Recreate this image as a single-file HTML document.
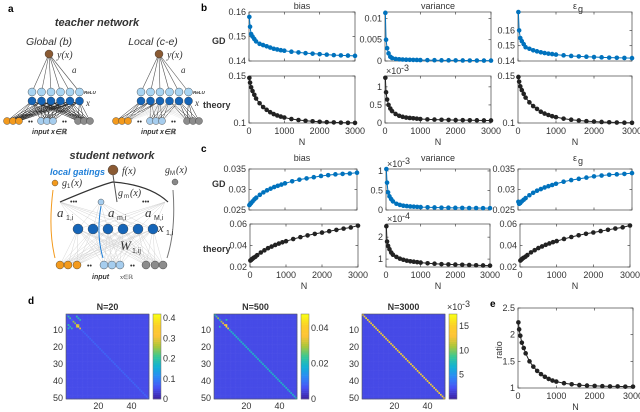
<!DOCTYPE html>
<html><head><meta charset="utf-8">
<style>
body{margin:0;background:#fff;}
svg{display:block;font-family:"Liberation Sans",sans-serif;}
.t{font-size:9px;fill:#333;}
.b{font-weight:bold;}
</style></head>
<body>
<svg id="fig" width="640" height="412" viewBox="0 0 640 412" xmlns="http://www.w3.org/2000/svg">
<g id="netA"></g>
<g id="plots"></g>
<text x="8" y="12" class="b" font-size="10">a</text>
<text x="201" y="11" class="b" font-size="10">b</text>
<text x="201" y="152" class="b" font-size="10">c</text>
<text x="28" y="304" class="b" font-size="10">d</text>
<text x="490" y="307" class="b" font-size="10">e</text>
</svg>
<script>
const Ns=[10,30,60,100,150,200,300,400,500,600,700,800,900,1000,1200,1400,1600,1800,2000,2200,2400,2600,2800,3000];
const bBiasGD=[0.158,0.154,0.151,0.150,0.149,0.148,0.147,0.1465,0.146,0.1455,0.145,0.1447,0.1444,0.1442,0.1438,0.1435,0.1432,0.143,0.1428,0.1426,0.1424,0.1423,0.1422,0.1421];
const bBiasTh=[0.148,0.143,0.138,0.134,0.130,0.126,0.121,0.117,0.114,0.1115,0.1095,0.108,0.1068,0.1058,0.1042,0.1032,0.1024,0.1018,0.1013,0.1009,0.1006,0.1004,0.1002,0.1001];
const bVarGD=[0.0113,0.005,0.003,0.0018,0.001,0.0007,0.0005,0.0004,0.00035,0.0003,0.00028,0.00026,0.00024,0.00022,0.0002,0.00018,0.00016,0.00015,0.00014,0.00013,0.00012,0.00011,0.0001,0.0001];
const bVarTh=[1.25,0.85,0.65,0.5,0.4,0.33,0.25,0.2,0.17,0.15,0.14,0.13,0.12,0.11,0.1,0.095,0.09,0.085,0.08,0.078,0.075,0.073,0.07,0.07];
const bEpsGD=[0.172,0.160,0.155,0.153,0.151,0.149,0.148,0.147,0.1463,0.1457,0.1452,0.1448,0.1445,0.1442,0.1437,0.1433,0.143,0.1428,0.1426,0.1424,0.1422,0.1421,0.142,0.1419];
const bEpsTh=[0.149,0.144,0.139,0.135,0.131,0.127,0.122,0.118,0.115,0.112,0.110,0.1085,0.1072,0.1062,0.1046,0.1035,0.1027,0.102,0.1015,0.1011,0.1008,0.1005,0.1003,0.1002];
const cBiasGD=[0.0262,0.0264,0.0267,0.0271,0.0276,0.028,0.0287,0.0293,0.0298,0.0302,0.0306,0.0309,0.0312,0.0315,0.032,0.0324,0.0327,0.033,0.0333,0.0335,0.0337,0.0338,0.0339,0.0341];
const cVarGD=[1.05,0.7,0.45,0.35,0.28,0.22,0.16,0.13,0.11,0.1,0.09,0.085,0.08,0.075,0.07,0.065,0.06,0.058,0.055,0.053,0.05,0.05,0.048,0.047];
const cEpsGD=[0.027,0.0265,0.0267,0.0271,0.0275,0.0279,0.0286,0.0292,0.0297,0.0301,0.0305,0.0308,0.0311,0.0314,0.0319,0.0323,0.0326,0.0329,0.0332,0.0334,0.0336,0.0337,0.0338,0.034];
const cBiasTh=[0.026,0.0265,0.0275,0.0285,0.0295,0.031,0.0335,0.0355,0.0375,0.039,0.0405,0.0418,0.043,0.044,0.046,0.0478,0.0494,0.0508,0.052,0.0533,0.0545,0.0557,0.0568,0.0585];
const cVarTh=[2.5,1.8,1.6,1.45,1.3,1.2,1.1,1.02,0.97,0.93,0.9,0.88,0.86,0.84,0.81,0.79,0.77,0.76,0.75,0.74,0.73,0.72,0.71,0.7];
const cEpsTh=[0.026,0.0266,0.0276,0.0286,0.0296,0.0311,0.0336,0.0356,0.0376,0.0391,0.0406,0.0419,0.0431,0.0441,0.0461,0.0479,0.0495,0.0509,0.0521,0.0534,0.0546,0.0558,0.0569,0.0586];
const eRatio=[2.23,2.1,1.98,1.85,1.75,1.65,1.5,1.4,1.32,1.26,1.21,1.17,1.14,1.12,1.09,1.07,1.055,1.045,1.04,1.035,1.03,1.03,1.025,1.025];
const xTicks=[0,1000,2000,3000];
// heatmap data
const hmBase=[0.045,0.005,0.0018];
const hmDiag=[0.07,0.02,0.0155];
const hmMax=[0.42,0.048,0.0175];
const hmHotCells=[[[1,1,0.2],[2,2,0.22],[4,4,0.25],[5,5,0.25],[6,6,0.3],[7,7,0.38],[7,2,0.18],[2,7,0.18],[8,3,0.2],[3,8,0.2],[6,7,0.28],[7,6,0.28],[1,6,0.2],[6,1,0.2],[8,8,0.3],[8,1,0.18]],
  [[1,1,0.025],[2,2,0.03],[4,4,0.03],[5,5,0.035],[7,7,0.045],[7,3,0.022],[3,7,0.022],[6,7,0.04],[8,8,0.04],[6,6,0.035]],
  [[2,2,0.0165],[7,7,0.0165]]];
const hmTitles=['N=20','N=500','N=3000'];
const cbTicks=[[0,0.1,0.2,0.3,0.4],[0,0.02,0.04],[0.005,0.01,0.015]];
const cbLabels=[['0','0.1','0.2','0.3','0.4'],['0','0.02','0.04'],['5','10','15']];

const NS='http://www.w3.org/2000/svg';
function el(tag,attrs,parent,txt){const e=document.createElementNS(NS,tag);for(const k in attrs)e.setAttribute(k,attrs[k]);if(txt!==undefined)e.textContent=txt;(parent||document.getElementById('plots')).appendChild(e);return e;}

function plot(name,x0,x1,y0,y1,ymin,ymax,yt,ytl,data,color,xlab,expo){
  const g=el('g',{});
  
  
  const sx=v=>x0+(v-0)/(3000-0)*(x1-x0);
  const sy=v=>y1-(v-ymin)/(ymax-ymin)*(y1-y0);
  const r=el('rect',{x:x0,y:y0,width:x1-x0,height:y1-y0,fill:'none',stroke:'#444','stroke-width':0.7},g);
  
  
  yt.forEach((v,i)=>{const y=sy(v);el('line',{x1:x0,x2:x0+2.5,y1:y,y2:y,stroke:'#444','stroke-width':0.7},g);el('line',{x1:x1,x2:x1-2.5,y1:y,y2:y,stroke:'#444','stroke-width':0.7},g);
    const t=el('text',{x:x0-3,y:y+3,'text-anchor':'end',class:'t'},g,ytl[i]);});
  xTicks.forEach(v=>{const x=sx(v);el('line',{x1:x,x2:x,y1:y1,y2:y1-2.5,stroke:'#444','stroke-width':0.7},g);el('line',{x1:x,x2:x,y1:y0,y2:y0+2.5,stroke:'#444','stroke-width':0.7},g);
    if(xlab){const t=el('text',{x:x,y:y1+11,'text-anchor':'middle',class:'t'},g,String(v));}});
  if(xlab){const t=el('text',{x:(x0+x1)/2,y:y1+22,'text-anchor':'middle',class:'t','font-size':'10'},g,'N');}
  if(expo){const t=el('text',{x:x0+1,y:y0-2,class:'t','font-size':'8'},g,'×10');el('text',{x:x0+16,y:y0-5,class:'t','font-size':'6'},g,expo);}
  const pts=Ns.map((n,i)=>sx(n)+','+sy(data[i])).join(' ');
  const pl=el('polyline',{points:pts,fill:'none',stroke:color,'stroke-width':1},g);
  
  
  Ns.forEach((n,i)=>{const c=el('circle',{cx:sx(n),cy:sy(data[i]),r:2.3,fill:color},g);
    
    });
}
const BL='#0072BD',BK='#222';
const cols=[[249,355],[385,491],[518,632]];
plot('b-bias-gd',249,355,12,61,0.14,0.16,[0.14,0.15,0.16],['0.14','0.15','0.16'],bBiasGD,BL,false);
plot('b-variance-gd',385,491,12,61,0,0.0115,[0,0.005,0.01],['0','0.005','0.01'],bVarGD,BL,false);
plot('b-eps-gd',518,632,12,61,0.14,0.172,[0.14,0.15,0.16],['0.14','0.15','0.16'],bEpsGD,BL,false);
plot('b-bias-theory',249,355,76,123,0.1,0.15,[0.1,0.15],['0.1','0.15'],bBiasTh,BK,true);
plot('b-variance-theory',385,491,76,123,0,1.3,[0,0.5,1],['0','0.5','1'],bVarTh,BK,true,'-3');
plot('b-eps-theory',518,632,76,123,0.1,0.15,[0.1,0.15],['0.1','0.15'],bEpsTh,BK,true);
plot('c-bias-gd',249,357,169,210,0.025,0.035,[0.025,0.03,0.035],['0.025','0.03','0.035'],cBiasGD,BL,false);
plot('c-variance-gd',386,490,169,210,0,1.05,[0,0.5,1],['0','0.5','1'],cVarGD,BL,false,'-3');
plot('c-eps-gd',518,632,169,210,0.025,0.035,[0.025,0.03,0.035],['0.025','0.03','0.035'],cEpsGD,BL,false);
plot('c-bias-theory',250,358,224,267,0.02,0.06,[0.02,0.04,0.06],['0.02','0.04','0.06'],cBiasTh,BK,true);
plot('c-variance-theory',386,490,224,267,0.64,2.6,[1,2],['1','2'],cVarTh,BK,true,'-4');
plot('c-eps-theory',520,630,224,267,0.02,0.06,[0.02,0.04,0.06],['0.02','0.04','0.06'],cEpsTh,BK,true);
plot('e-ratio',518,633,308,388,1,2.5,[1,1.5,2,2.5],['1','1.5','2','2.5'],eRatio,BK,true);
{const t=el('text',{x:502,y:350,'text-anchor':'middle',class:'t','font-size':'10',transform:'rotate(-90 502 350)'},null,'ratio');}

const titles=['bias','variance','ε'];
[[9,0],[161,1]].forEach(([y,row])=>{cols.forEach((c,i)=>{const t=el('text',{x:(c[0]+c[1])/2,y:y,'text-anchor':'middle',class:'t','font-size':'10'},null,titles[i]);if(i==2)el('text',{x:(c[0]+c[1])/2+3,y:y+3,class:'t','font-size':'7'},null,'g');});});
[['GD',212,44],['theory',203,108],['GD',212,187],['theory',203,252]].forEach(([s,x,y])=>{const t=el('text',{x:x,y:y,class:'t b','font-size':'10'},null,s);});

// parula (MATLAB stops)
const par=[[62,38,168],[72,82,244],[46,135,247],[18,177,214],[55,200,151],[171,199,57],[254,195,56],[252,207,41],[249,251,20]];
function cmap(t){t=Math.max(0,Math.min(1,t))*(par.length-1);const i=Math.min(par.length-2,Math.floor(t)),f=t-i;const a=par[i],b=par[i+1];return 'rgb('+a.map((v,k)=>Math.round(v+(b[k]-v)*f)).join(',')+')';}
const hmX=[66,214,362];
hmX.forEach((x0,h)=>{
  const g=el('g',{});
  
  
  const y0=314,w=83,hh=85,cw=w/50,ch=hh/50;
  const M=[];for(let i=0;i<50;i++){M.push([]);for(let j=0;j<50;j++)M[i].push(i==j?hmDiag[h]:hmBase[h]);}
  hmHotCells[h].forEach(([i,j,v])=>{M[i][j]=v;});
  for(let i=0;i<50;i++)for(let j=0;j<50;j++){el('rect',{x:x0+j*cw,y:y0+i*ch,width:cw+0.3,height:ch+0.3,fill:cmap(M[i][j]/hmMax[h])},g);}
  el('rect',{x:x0,y:y0,width:w,height:hh,fill:'none',stroke:'#555','stroke-width':0.6},g);
  [10,20,30,40,50].forEach(v=>{el('text',{x:x0-3,y:y0+(v-0.5)*ch+3,'text-anchor':'end',class:'t'},g,String(v));});
  [20,40].forEach(v=>{el('text',{x:x0+(v-0.5)*cw,y:409,'text-anchor':'middle',class:'t'},g,String(v));});
  const tt=el('text',{x:x0+w/2,y:y0-4,'text-anchor':'middle',class:'t b','font-size':'10'},g,hmTitles[h]);
  
  const cx=x0+w+4,cwid=8;
  const cb=el('g',{},g);
  for(let k=0;k<40;k++)el('rect',{x:cx,y:y0+hh-(k+1)*hh/40,width:cwid,height:hh/40+0.3,fill:cmap(k/39)},cb);
  el('rect',{x:cx,y:y0,width:cwid,height:hh,fill:'none',stroke:'#777','stroke-width':0.5},cb);
  cbTicks[h].forEach((v,i)=>{const y=y0+hh-v/hmMax[h]*hh;el('text',{x:cx+cwid+2,y:y+3,class:'t','font-size':'8.5'},cb,cbLabels[h][i]);});
  if(h==2){el('text',{x:cx-2,y:y0-4,class:'t','font-size':'8'},cb,'×10');el('text',{x:cx+13,y:y0-7,class:'t','font-size':'6'},cb,'-3');}
});

// network diagram
const N=document.getElementById('netA');
function node(x,y,r,fill,stroke){const c=el('circle',{cx:x,cy:y,r:r,fill:fill,stroke:stroke||'#333','stroke-width':0.4},N);return c;}
function ln(x1,y1,x2,y2,s,w){el('line',{x1,y1,x2,y2,stroke:s,'stroke-width':w},N);}
function txt(s,x,y,o){const t=el('text',Object.assign({x,y,'font-size':'10',fill:'#333'},o||{}),N,s);return t;}
const hidX=[0,1,2,3,4,5].map(i=>32+i*9.5);
const inOr=[7,13,19],inBl=[41,47,53],inGr=[78,84,90];
[0,1].forEach(k=>{
  const ox=k*109, ox2=k*110;
  const outx=49+ox2, outy=54;
  hidX.forEach(x=>ln(outx,outy,x+ox,92,'#555',0.6));
  const ins=[...inOr,...inBl,...inGr].map(x=>x+ox);
  hidX.forEach((hx,hi)=>ins.forEach((ix,ii)=>{
    const local = k==1 ? Math.abs(ii-hi*1.6)<2.5 : true;
    ln(hx+ox,101,ix,121,local?'#222':'#ddd',local?0.5:0.3);
  }));
  node(outx,outy,4,'#8a5a33');
  hidX.forEach(x=>{node(x+ox,92,4,'#a8d4f2');node(x+ox,101,4,'#1565b8');});
  inOr.forEach(x=>node(x+ox,121,3.5,'#f39a1d'));
  inBl.forEach(x=>node(x+ox,121,3.5,'#a6cdee'));
  inGr.forEach(x=>node(x+ox,121,3.5,'#8c8c8c'));
  txt('••',28+ox,124,{'font-size':'7'});txt('••',62+ox,124,{'font-size':'7'});
  txt('y(x)',outx+8,outy+4,{'font-family':'Liberation Serif','font-style':'italic'});
  txt('a',72+ox,73,{'font-family':'Liberation Serif','font-style':'italic','font-size':'9'});
  txt('x',86+ox,106,{'font-family':'Liberation Serif','font-style':'italic','font-size':'9'});
  txt('ReLU',84+ox,94,{'font-size':'4.5','font-weight':'bold','font-style':'italic'});
  txt('input x∈ℝ',32+ox,134,{'font-size':'7','font-weight':'bold','font-style':'italic'});
});
txt('teacher network',97,26,{'text-anchor':'middle','font-weight':'bold','font-style':'italic','font-size':'11'});
txt('Global (b)',49,45,{'text-anchor':'middle','font-style':'italic','font-size':'10.5'});
txt('Local (c-e)',153,45,{'text-anchor':'middle','font-style':'italic','font-size':'10.5'});
txt('student network',112,159,{'text-anchor':'middle','font-weight':'bold','font-style':'italic','font-size':'11'});
txt('local gatings',50,175,{'font-weight':'bold','font-style':'italic','font-size':'9',fill:'#1f7fd8'});
const sh=[0,1,2,3,4,5].map(i=>78+i*15);
const sin=[60,68,77,104,112,120,146,155,163];
sh.forEach(hx=>sin.forEach(ix=>ln(hx,229,ix,265,'#ccc',0.4)));
sh.forEach(hx=>[60,100,165].forEach(ax=>ln(hx,229,ax,202,'#ccc',0.4)));
el('path',{d:'M60,202 Q100,185 113,182 Q150,185 168,202',fill:'none',stroke:'#333','stroke-width':1.2},N);
ln(113,175,117,202,'#555',1);
el('path',{d:'M55,258 Q48,230 53,190',fill:'none',stroke:'#f39a1d','stroke-width':1},N);
el('path',{d:'M103,258 Q96,235 101,206',fill:'none',stroke:'#1f7fd8','stroke-width':1},N);
el('path',{d:'M167,258 Q176,230 173,190',fill:'none',stroke:'#777','stroke-width':1},N);
node(113,170,5,'#8a5a33');
node(55,183,3,'#f39a1d');node(175,182,3,'#888');node(101,202,3,'#a6cdee');
sh.forEach(x=>node(x,229,5,'#1565b8'));
[60,68,77].forEach(x=>node(x,265,4,'#f39a1d'));
[104,112,120].forEach(x=>node(x,265,4,'#a6cdee'));
[146,155,163].forEach(x=>node(x,265,4,'#8c8c8c'));
txt('•••',70,204,{'font-size':'7'});txt('•••',142,204,{'font-size':'7'});
txt('••',87,268,{'font-size':'7'});txt('••',130,268,{'font-size':'7'});
const it={'font-family':'Liberation Serif','font-style':'italic'};
txt('f(x)',122,174,it);txt('g',62,186,it);txt('1',67,188,{'font-size':'6'});txt('(x)',71,186,it);
txt('g',165,173,it);txt('M',170,175,{'font-size':'6'});txt('(x)',176,173,it);
txt('g',118,196,it);txt('m',124,198,{'font-size':'6'});txt('(x)',130,196,it);
txt('a',57,217,Object.assign({'font-size':'13'},it));txt('1,i',66,220,{'font-size':'7'});
txt('a',108,217,Object.assign({'font-size':'13'},it));txt('m,i',117,220,{'font-size':'7'});
txt('a',145,217,Object.assign({'font-size':'13'},it));txt('M,i',154,220,{'font-size':'7'});
txt('x',158,232,Object.assign({'font-size':'13'},it));txt('1,i',166,235,{'font-size':'7'});
txt('W',120,250,Object.assign({'font-size':'13'},it));txt('1,ij',132,253,{'font-size':'7'});
txt('input',92,279,{'font-size':'7','font-weight':'bold','font-style':'italic'});
txt('x∈ℝ',120,279,{'font-size':'6','font-family':'Liberation Serif'});
</script>
</body></html>
